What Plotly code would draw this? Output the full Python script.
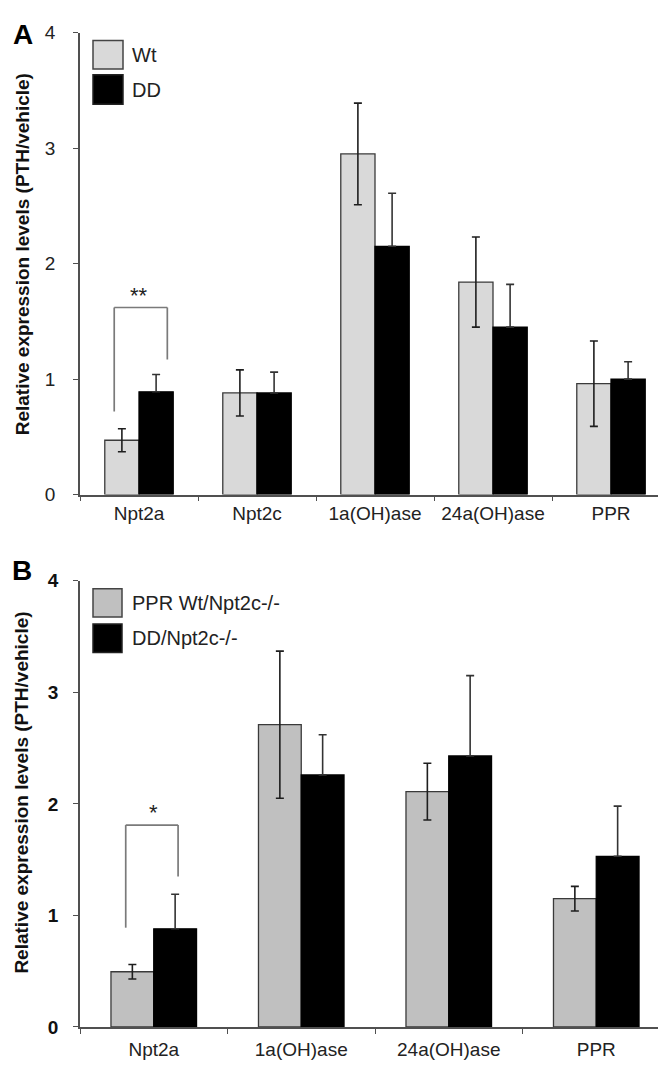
import plotly.graph_objects as go

# ---------------- data ----------------
cats_a = ["Npt2a", "Npt2c", "1a(OH)ase", "24a(OH)ase", "PPR"]
wt_a = [0.47, 0.88, 2.95, 1.84, 0.96]
wt_a_err = [0.10, 0.20, 0.44, 0.39, 0.37]
dd_a = [0.89, 0.88, 2.15, 1.45, 1.00]
dd_a_err = [0.15, 0.18, 0.46, 0.37, 0.15]

cats_b = ["Npt2a", "1a(OH)ase", "24a(OH)ase", "PPR"]
wt_b = [0.495, 2.71, 2.11, 1.15]
wt_b_err = [0.065, 0.66, 0.255, 0.11]
dd_b = [0.88, 2.26, 2.43, 1.53]
dd_b_err = [0.31, 0.36, 0.72, 0.45]

y_ticks = [0, 1, 2, 3, 4]
legend_a = ["Wt", "DD"]
legend_b = ["PPR Wt/Npt2c-/-", "DD/Npt2c-/-"]
ytitle = "Relative expression levels (PTH/vehicle)"

# ---------------- layout helpers ----------------
W, H = 666, 1078
FONT = "Liberation Sans, Arial, sans-serif"


def px(x):
    return x / W


def py(y):
    return 1 - y / H


LIGHT_A = "#d9d9d9"
LIGHT_B = "#c0c0c0"
EDGE = "#3a3a3a"
AXIS = "#505050"
ERR = "#1e1e1e"

fig = go.Figure()


def add_pair(xaxis, yaxis, cats, v1, e1, v2, e2, light):
    fig.add_trace(go.Bar(
        x=cats, y=v1, xaxis=xaxis, yaxis=yaxis, showlegend=False,
        marker=dict(color=light, line=dict(color=EDGE, width=1.3)),
        error_y=dict(type="data", array=e1, color=ERR, thickness=1.6, width=4),
    ))
    # lower half of the black-bar error bars is hidden inside the black bar
    fig.add_trace(go.Bar(
        x=cats, y=v2, xaxis=xaxis, yaxis=yaxis, showlegend=False,
        marker=dict(color="black", line=dict(color="black", width=1.3)),
        error_y=dict(type="data", symmetric=False, array=e2,
                     arrayminus=[0] * len(e2), color="#333333", thickness=1.6, width=4),
    ))


add_pair("x", "y", cats_a, wt_a, wt_a_err, dd_a, dd_a_err, LIGHT_A)
add_pair("x2", "y2", cats_b, wt_b, wt_b_err, dd_b, dd_b_err, LIGHT_B)

xdom = [px(72), px(662)]
xcommon = dict(
    type="category", domain=xdom, showline=True, linecolor=AXIS, linewidth=1.6,
    ticks="outside", tickson="boundaries", ticklen=5, tickcolor=AXIS, tickwidth=1.2,
    showgrid=False, zeroline=False,
    tickfont=dict(family=FONT, size=19, color="#222222"),
)
ycommon = dict(
    range=[0, 4], tickvals=y_ticks, showline=True, linecolor=AXIS, linewidth=1.6,
    ticks="outside", ticklen=5, tickcolor=AXIS, tickwidth=1.2,
    showgrid=False, zeroline=False,
)

fig.update_layout(
    width=W, height=H,
    margin=dict(l=0, r=0, t=0, b=0),
    paper_bgcolor="white", plot_bgcolor="white",
    barmode="group", bargap=0.42, bargroupgap=0,
    showlegend=False,
    xaxis=dict(**xcommon, anchor="y", ticklabelstandoff=1),
    yaxis=dict(**ycommon, anchor="x", domain=[py(486), py(15)],
               ticklabelstandoff=14,
               tickfont=dict(family=FONT, size=19, color="#222222")),
    xaxis2=dict(**xcommon, anchor="y2", ticklabelstandoff=4),
    yaxis2=dict(**ycommon, anchor="x2", domain=[py(1029), py(574)],
                ticklabelstandoff=11,
                tickfont=dict(family=FONT, size=19, color="#111111", weight="bold")),
)

shapes = []
annots = []

# ---------------- significance brackets ----------------
BR = dict(color="#7a7a7a", width=1.7)
# panel A: Npt2a
shapes += [
    dict(type="line", xref="x", yref="y", x0=-0.21, x1=-0.21, y0=0.72, y1=1.62, line=BR),
    dict(type="line", xref="x", yref="y", x0=-0.21, x1=0.24, y0=1.62, y1=1.62, line=BR),
    dict(type="line", xref="x", yref="y", x0=0.24, x1=0.24, y0=1.17, y1=1.62, line=BR),
]
annots.append(dict(xref="x", yref="y", x=0.0, y=1.60, text="**", showarrow=False,
                   yanchor="bottom", font=dict(family=FONT, size=22, color="#222222")))
# panel B: Npt2a
shapes += [
    dict(type="line", xref="x2", yref="y2", x0=-0.19, x1=-0.19, y0=0.89, y1=1.81, line=BR),
    dict(type="line", xref="x2", yref="y2", x0=-0.19, x1=0.165, y0=1.81, y1=1.81, line=BR),
    dict(type="line", xref="x2", yref="y2", x0=0.165, x1=0.165, y0=1.35, y1=1.81, line=BR),
]
annots.append(dict(xref="x2", yref="y2", x=0.0, y=1.79, text="*", showarrow=False,
                   yanchor="bottom", font=dict(family=FONT, size=22, color="#222222")))

# ---------------- custom legends ----------------
def legend_box(x0, y0, x1, y1, color, edge):
    shapes.append(dict(type="rect", xref="paper", yref="paper",
                       x0=px(x0), x1=px(x1), y0=py(y1), y1=py(y0),
                       fillcolor=color, line=dict(color=edge, width=1.5)))


legend_box(85, 23, 115, 52, LIGHT_A, "#444444")
legend_box(85, 58, 115, 88, "black", "#222222")
annots.append(dict(xref="paper", yref="paper", x=px(122), y=py(38), text=legend_a[0],
                   xanchor="left", yanchor="middle", showarrow=False,
                   font=dict(family=FONT, size=20, color="#222222")))
annots.append(dict(xref="paper", yref="paper", x=px(122), y=py(73), text=legend_a[1],
                   xanchor="left", yanchor="middle", showarrow=False,
                   font=dict(family=FONT, size=20, color="#222222")))

legend_box(85, 582, 114, 611, LIGHT_B, "#444444")
legend_box(85, 618, 114, 647, "black", "#222222")
annots.append(dict(xref="paper", yref="paper", x=px(122), y=py(597), text=legend_b[0],
                   xanchor="left", yanchor="middle", showarrow=False,
                   font=dict(family=FONT, size=20, color="#222222")))
annots.append(dict(xref="paper", yref="paper", x=px(122), y=py(632), text=legend_b[1],
                   xanchor="left", yanchor="middle", showarrow=False,
                   font=dict(family=FONT, size=20, color="#222222")))

# ---------------- y titles and panel letters ----------------
for yc in (241, 790):
    annots.append(dict(xref="paper", yref="paper", x=px(14), y=py(yc), text=ytitle,
                       textangle=-90, showarrow=False, xanchor="center", yanchor="middle",
                       font=dict(family=FONT, size=19, color="#111111", weight="bold")))

annots.append(dict(xref="paper", yref="paper", x=px(15), y=py(17), text="A",
                   showarrow=False, xanchor="center", yanchor="middle",
                   font=dict(family=FONT, size=28, color="black", weight="bold")))
annots.append(dict(xref="paper", yref="paper", x=px(14), y=py(563), text="B",
                   showarrow=False, xanchor="center", yanchor="middle",
                   font=dict(family=FONT, size=28, color="black", weight="bold")))

fig.update_layout(shapes=shapes, annotations=annots)

fig.write_html("out.html")
